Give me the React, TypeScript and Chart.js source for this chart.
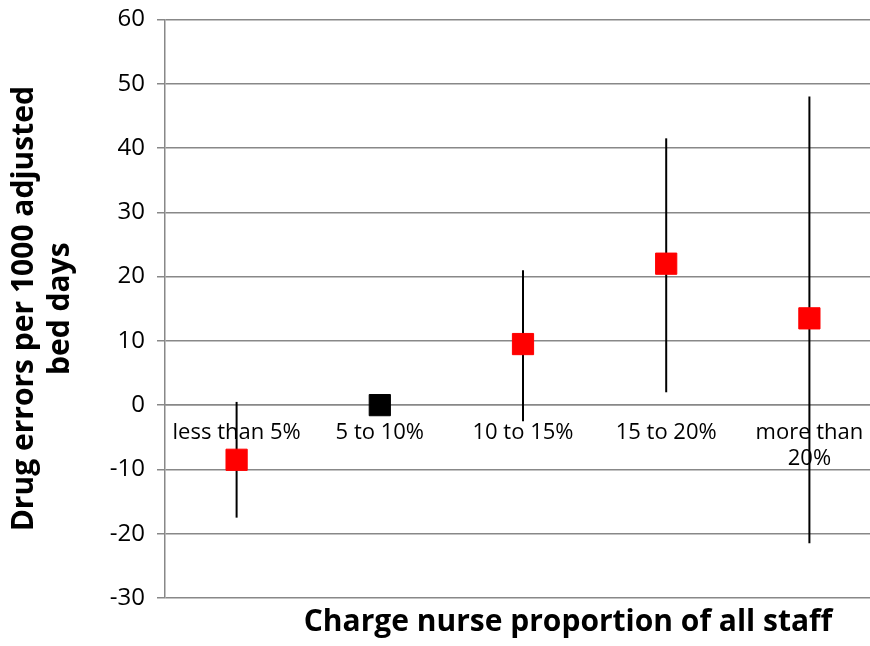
import React, { useEffect, useRef } from 'react';
import { Chart, registerables } from 'chart.js';
Chart.register(...registerables);

const categories: (string | string[])[] = ['less than 5%', '5 to 10%', '10 to 15%', '15 to 20%', ['more than', '20%']];
const values = [-8.5, 0, 9.5, 22, 13.5];
const lows = [-17.5, 0, -2.5, 2, -21.5];
const highs = [0.5, 0, 21, 41.5, 48];
const colors = ['#ff0000', '#000000', '#ff0000', '#ff0000', '#ff0000'];
const FONT = '"Open Sans", "Liberation Sans", sans-serif';

const errorBars = {
  id: 'errorBars',
  beforeDatasetsDraw(chart: any) {
    const { ctx, scales } = chart;
    const meta = chart.getDatasetMeta(0);
    ctx.save();
    ctx.strokeStyle = '#000';
    ctx.lineWidth = 2;
    meta.data.forEach((pt: any, i: number) => {
      if (lows[i] === highs[i]) return;
      ctx.beginPath();
      ctx.moveTo(pt.x, scales.y.getPixelForValue(lows[i]));
      ctx.lineTo(pt.x, scales.y.getPixelForValue(highs[i]));
      ctx.stroke();
    });
    ctx.restore();
  },
  afterDraw(chart: any) {
    const { ctx } = chart;
    ctx.save();
    ctx.fillStyle = '#000';
    ctx.font = `bold 30px ${FONT}`;
    ctx.textAlign = 'center';
    ctx.textBaseline = 'middle';
    ctx.fillText('Charge nurse proportion of all staff', 568, 629);
    ctx.restore();
  },
};

export default function App() {
  const ref = useRef<HTMLCanvasElement | null>(null);
  useEffect(() => {
    document.body.style.margin = '0';
    if (!ref.current) return;
    const c = new Chart(ref.current, {
      type: 'line',
      data: {
        labels: categories,
        datasets: [{
          data: values,
          showLine: false,
          pointStyle: 'rect',
          pointRadius: 15,
          pointHoverRadius: 15,
          pointBackgroundColor: colors,
          pointBorderColor: colors,
        }],
      },
      options: {
        animation: false,
        responsive: false,
        layout: { padding: { top: 3, right: 0, bottom: 48, left: 6 } },
        plugins: { legend: { display: false }, tooltip: { enabled: false } },
        scales: {
          x: {
            position: { y: 0 },
            offset: true,
            grid: { display: false, drawTicks: false },
            border: { color: '#888', width: 1.5 },
            ticks: { color: '#000', font: { family: FONT, size: 22 }, padding: 14, maxRotation: 0, autoSkip: false },
          },
          y: {
            min: -30, max: 60,
            afterFit: (s: any) => { s.width = 159; },
            ticks: { stepSize: 10, color: '#000', font: { family: FONT, size: 24 }, padding: 12 },
            grid: { color: '#888', lineWidth: 1.5, drawTicks: true, tickLength: 8 },
            border: { color: '#888', width: 1.5 },
            title: {
              display: true,
              text: ['Drug errors per 1000 adjusted', 'bed days'],
              color: '#000',
              font: { family: FONT, size: 30, weight: 'bold' },
              padding: 0,
            },
          },
        },
      },
      plugins: [errorBars],
    } as any);
    return () => { c.destroy(); };
  }, []);
  return (
    <div style={{ width: 870, height: 646, overflow: 'hidden' }}>
      <canvas ref={ref} width={897} height={653} style={{ display: 'block', marginTop: -7 }} />
    </div>
  );
}
